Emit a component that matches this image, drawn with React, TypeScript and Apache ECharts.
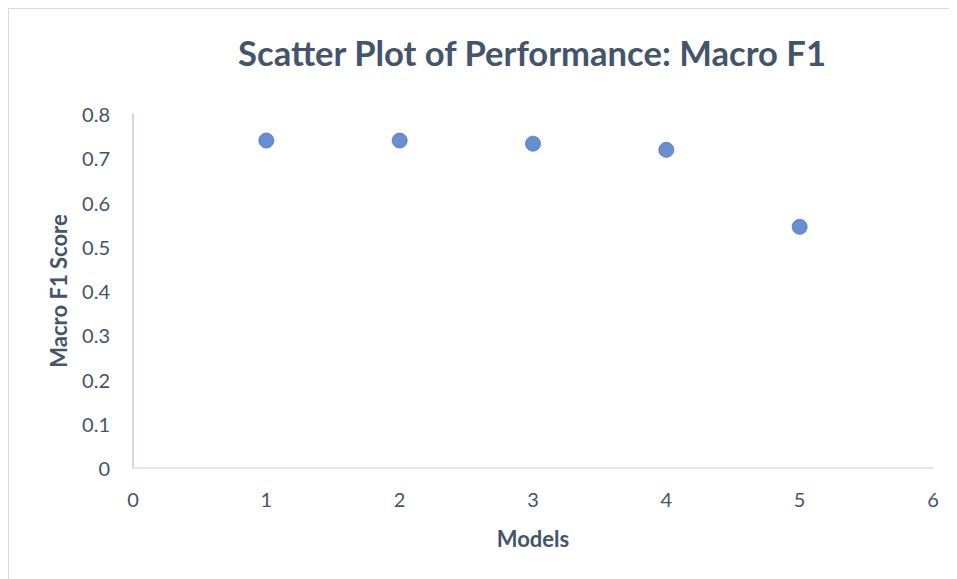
import React, { useEffect, useRef } from "react";
import * as echarts from "echarts";

const titleText = "Scatter Plot of Performance: Macro F1";
const xAxisName = "Models";
const yAxisName = "Macro F1 Score";
const modelIds = [1, 2, 3, 4, 5];
const macroF1 = [0.74, 0.74, 0.733, 0.719, 0.545];

export default function App() {
  const ref = useRef<HTMLDivElement>(null);
  useEffect(() => {
    if (!ref.current) return;
    const chart = echarts.init(ref.current, null, { renderer: "svg" });
    const textColor = "#44546A";
    chart.setOption({
      animation: false,
      backgroundColor: "#ffffff",
      title: {
        text: titleText,
        left: 518,
        top: 21,
        textAlign: "center",
        textStyle: {
          fontFamily: "Lato",
          fontWeight: "bold",
          fontSize: 34.6,
          color: textColor,
        },
      },
      grid: { left: 124, top: 105, width: 800, height: 354 },
      xAxis: {
        type: "value",
        min: 0,
        max: 6,
        interval: 1,
        name: xAxisName,
        nameLocation: "middle",
        nameGap: 59,
        nameTextStyle: { fontFamily: "Lato", fontWeight: "bold", fontSize: 22, color: textColor },
        axisLine: { show: true, onZero: false, lineStyle: { color: "#D9DEE6", width: 1.5 } },
        axisTick: { show: false },
        splitLine: { show: false },
        axisLabel: { margin: 21, fontFamily: "Lato", fontSize: 20, color: textColor },
      },
      yAxis: {
        type: "value",
        min: 0,
        max: 0.8,
        interval: 0.1,
        name: yAxisName,
        nameLocation: "middle",
        nameGap: 64,
        nameTextStyle: { fontFamily: "Lato", fontWeight: "bold", fontSize: 22, color: textColor },
        axisLine: { show: true, lineStyle: { color: "#C3CBD8", width: 1.5 } },
        axisTick: { show: false },
        splitLine: { show: false },
        axisLabel: {
          margin: 23,
          fontFamily: "Lato",
          fontSize: 20,
          color: textColor,
          formatter: (v: number) => String(Math.round(v * 10) / 10),
        },
      },
      series: [
        {
          type: "scatter",
          symbol: "circle",
          symbolSize: 15,
          data: modelIds.map((m, i) => [m, macroF1[i]]),
          itemStyle: { color: "#4472C4", borderColor: "#3C67B6", borderWidth: 0.8 },
        },
      ],
    });
    return () => chart.dispose();
  }, []);
  return (
    <div
      style={{
        border: "1px solid #D9D9D9",
        width: 960,
        height: 580,
        boxSizing: "border-box",
        overflow: "hidden",
      }}
    >
      <div ref={ref} style={{ width: 958, height: 578 }} />
    </div>
  );
}
